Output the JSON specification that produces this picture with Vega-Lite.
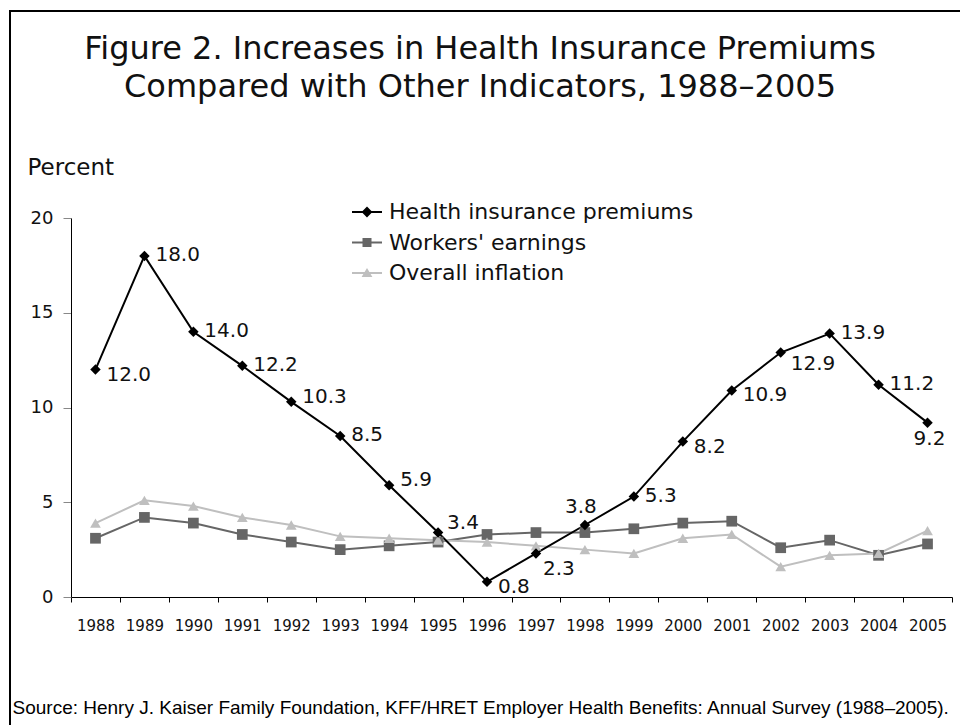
{
  "$schema": "https://vega.github.io/schema/vega-lite/v6.json",
  "width": 954,
  "height": 718,
  "autosize": {"type": "none"},
  "padding": {"left": 10, "top": 11, "right": -4, "bottom": -4},
  "background": "#ffffff",
  "title": {
    "text": ["Figure 2. Increases in Health Insurance Premiums", "Compared with Other Indicators, 1988–2005"],
    "font": "DejaVu Sans",
    "fontSize": 32,
    "fontWeight": "normal",
    "color": "#111111",
    "lineHeight": 38,
    "anchor": "middle",
    "baseline": "bottom",
    "offset": -125,
    "dx": -7
  },
  "data": {
    "values": [
      {"year": "1988", "series": "Workers' earnings", "value": 3.1},
      {"year": "1989", "series": "Workers' earnings", "value": 4.2},
      {"year": "1990", "series": "Workers' earnings", "value": 3.9},
      {"year": "1991", "series": "Workers' earnings", "value": 3.3},
      {"year": "1992", "series": "Workers' earnings", "value": 2.9},
      {"year": "1993", "series": "Workers' earnings", "value": 2.5},
      {"year": "1994", "series": "Workers' earnings", "value": 2.7},
      {"year": "1995", "series": "Workers' earnings", "value": 2.9},
      {"year": "1996", "series": "Workers' earnings", "value": 3.3},
      {"year": "1997", "series": "Workers' earnings", "value": 3.4},
      {"year": "1998", "series": "Workers' earnings", "value": 3.4},
      {"year": "1999", "series": "Workers' earnings", "value": 3.6},
      {"year": "2000", "series": "Workers' earnings", "value": 3.9},
      {"year": "2001", "series": "Workers' earnings", "value": 4.0},
      {"year": "2002", "series": "Workers' earnings", "value": 2.6},
      {"year": "2003", "series": "Workers' earnings", "value": 3.0},
      {"year": "2004", "series": "Workers' earnings", "value": 2.2},
      {"year": "2005", "series": "Workers' earnings", "value": 2.8},
      {"year": "1988", "series": "Overall inflation", "value": 3.9},
      {"year": "1989", "series": "Overall inflation", "value": 5.1},
      {"year": "1990", "series": "Overall inflation", "value": 4.8},
      {"year": "1991", "series": "Overall inflation", "value": 4.2},
      {"year": "1992", "series": "Overall inflation", "value": 3.8},
      {"year": "1993", "series": "Overall inflation", "value": 3.2},
      {"year": "1994", "series": "Overall inflation", "value": 3.1},
      {"year": "1995", "series": "Overall inflation", "value": 3.0},
      {"year": "1996", "series": "Overall inflation", "value": 2.9},
      {"year": "1997", "series": "Overall inflation", "value": 2.7},
      {"year": "1998", "series": "Overall inflation", "value": 2.5},
      {"year": "1999", "series": "Overall inflation", "value": 2.3},
      {"year": "2000", "series": "Overall inflation", "value": 3.1},
      {"year": "2001", "series": "Overall inflation", "value": 3.3},
      {"year": "2002", "series": "Overall inflation", "value": 1.6},
      {"year": "2003", "series": "Overall inflation", "value": 2.2},
      {"year": "2004", "series": "Overall inflation", "value": 2.3},
      {"year": "2005", "series": "Overall inflation", "value": 3.5},
      {"year": "1988", "series": "Health insurance premiums", "value": 12.0},
      {"year": "1989", "series": "Health insurance premiums", "value": 18.0},
      {"year": "1990", "series": "Health insurance premiums", "value": 14.0},
      {"year": "1991", "series": "Health insurance premiums", "value": 12.2},
      {"year": "1992", "series": "Health insurance premiums", "value": 10.3},
      {"year": "1993", "series": "Health insurance premiums", "value": 8.5},
      {"year": "1994", "series": "Health insurance premiums", "value": 5.9},
      {"year": "1995", "series": "Health insurance premiums", "value": 3.4},
      {"year": "1996", "series": "Health insurance premiums", "value": 0.8},
      {"year": "1997", "series": "Health insurance premiums", "value": 2.3},
      {"year": "1998", "series": "Health insurance premiums", "value": 3.8},
      {"year": "1999", "series": "Health insurance premiums", "value": 5.3},
      {"year": "2000", "series": "Health insurance premiums", "value": 8.2},
      {"year": "2001", "series": "Health insurance premiums", "value": 10.9},
      {"year": "2002", "series": "Health insurance premiums", "value": 12.9},
      {"year": "2003", "series": "Health insurance premiums", "value": 13.9},
      {"year": "2004", "series": "Health insurance premiums", "value": 11.2},
      {"year": "2005", "series": "Health insurance premiums", "value": 9.2}
    ]
  },
  "encoding": {
    "x": {
      "field": "year",
      "type": "ordinal",
      "scale": {"range": [61, 942], "paddingInner": 0, "paddingOuter": 0},
      "axis": {
        "title": "Source: Henry J. Kaiser Family Foundation, KFF/HRET Employer Health Benefits: Annual Survey (1988–2005).",
        "titleFont": "Liberation Sans",
        "titleFontSize": 19,
        "titleFontWeight": "normal",
        "titleColor": "#000000",
        "titleX": 2,
        "titleY": 110,
        "titleAlign": "left",
        "titleAnchor": "start",
        "titleBaseline": "middle",
        "labelAngle": 0,
        "labelFont": "DejaVu Sans",
        "labelFontSize": 15,
        "labelColor": "#111111",
        "labelPadding": 16,
        "tickBand": "extent",
        "tickSize": 5,
        "tickColor": "#000000",
        "domainColor": "#000000",
        "offset": -132,
        "grid": false
      }
    },
    "y": {
      "field": "value",
      "type": "quantitative",
      "scale": {"domain": [0, 20], "range": [586, 207], "nice": false, "zero": false},
      "axis": {
        "title": "Percent",
        "titleAngle": 0,
        "titleAlign": "left",
        "titleBaseline": "middle",
        "titleX": -44,
        "titleY": 156,
        "titleFont": "DejaVu Sans",
        "titleFontSize": 23,
        "titleFontWeight": "normal",
        "titleColor": "#111111",
        "values": [0, 5, 10, 15, 20],
        "labelFont": "DejaVu Sans",
        "labelFontSize": 18,
        "labelColor": "#111111",
        "labelPadding": 10,
        "tickSize": 8,
        "tickColor": "#888888",
        "domainColor": "#000000",
        "offset": -61,
        "grid": false
      }
    }
  },
  "layer": [
    {
      "transform": [{"filter": "datum.series === \"Workers' earnings\""}],
      "mark": {"type": "line", "strokeWidth": 2, "color": "#666666"},
      "encoding": {}
    },
    {
      "transform": [{"filter": "datum.series === 'Overall inflation'"}],
      "mark": {"type": "line", "strokeWidth": 2, "color": "#bfbfbf"},
      "encoding": {}
    },
    {
      "transform": [{"filter": "datum.series === 'Health insurance premiums'"}],
      "mark": {"type": "line", "strokeWidth": 2, "color": "#000000"},
      "encoding": {}
    },
    {
      "mark": {"type": "point", "filled": true, "opacity": 0, "size": 100},
      "encoding": {
        "color": {
          "field": "series",
          "type": "nominal",
          "scale": {
            "domain": ["Health insurance premiums", "Workers' earnings", "Overall inflation"],
            "range": ["#000000", "#666666", "#bfbfbf"]
          },
          "legend": {
            "title": null,
            "orient": "none",
            "legendX": 342,
            "legendY": 186,
            "padding": 0,
            "symbolSize": 900,
            "symbolStrokeWidth": 0,
            "symbolOpacity": 1,
            "labelFont": "DejaVu Sans",
            "labelFontSize": 22,
            "labelColor": "#111111",
            "labelOffset": 7,
            "labelLimit": 500,
            "rowPadding": 4.5
          }
        },
        "shape": {
          "field": "series",
          "type": "nominal",
          "scale": {
            "domain": ["Health insurance premiums", "Workers' earnings", "Overall inflation"],
            "range": [
              "M-1,-0.07H1V0.07H-1ZM0,-0.36L0.36,0L0,0.36L-0.36,0Z",
              "M-1,-0.07H1V0.07H-1ZM-0.3,-0.3H0.3V0.3H-0.3Z",
              "M-1,-0.07H1V0.07H-1ZM0,-0.34L0.36,0.26H-0.36Z"
            ]
          },
          "legend": {
            "title": null,
            "orient": "none",
            "legendX": 342,
            "legendY": 186,
            "padding": 0,
            "symbolSize": 900,
            "symbolStrokeWidth": 0,
            "symbolOpacity": 1,
            "labelFont": "DejaVu Sans",
            "labelFontSize": 22,
            "labelColor": "#111111",
            "labelOffset": 7,
            "labelLimit": 500,
            "rowPadding": 4.5
          }
        }
      }
    },
    {
      "transform": [{"filter": "datum.series === \"Workers' earnings\""}],
      "mark": {"type": "point", "shape": "square", "filled": true, "opacity": 1, "size": 115, "color": "#666666"},
      "encoding": {}
    },
    {
      "transform": [{"filter": "datum.series === 'Overall inflation'"}],
      "mark": {"type": "point", "shape": "triangle-up", "filled": true, "opacity": 1, "size": 115, "color": "#bfbfbf"},
      "encoding": {}
    },
    {
      "transform": [{"filter": "datum.series === 'Health insurance premiums'"}],
      "mark": {"type": "point", "shape": "diamond", "filled": true, "opacity": 1, "size": 110, "color": "#000000"},
      "encoding": {}
    },
    {
      "transform": [
        {"filter": "datum.series === 'Health insurance premiums'"},
        {"filter": {"field": "year", "oneOf": ["1989", "1990", "1991", "1993", "1999", "2003", "2004"]}}
      ],
      "mark": {"type": "text", "align": "left", "baseline": "middle", "dx": 11, "dy": -1, "font": "DejaVu Sans", "fontSize": 20, "color": "#111111"},
      "encoding": {"text": {"field": "value", "type": "quantitative", "format": ".1f"}}
    },
    {
      "transform": [
        {"filter": "datum.series === 'Health insurance premiums'"},
        {"filter": {"field": "year", "oneOf": ["1992", "1994"]}}
      ],
      "mark": {"type": "text", "align": "left", "baseline": "middle", "dx": 11, "dy": -5, "font": "DejaVu Sans", "fontSize": 20, "color": "#111111"},
      "encoding": {"text": {"field": "value", "type": "quantitative", "format": ".1f"}}
    },
    {
      "transform": [
        {"filter": "datum.series === 'Health insurance premiums'"},
        {"filter": {"field": "year", "oneOf": ["1995"]}}
      ],
      "mark": {"type": "text", "align": "left", "baseline": "middle", "dx": 9, "dy": -10, "font": "DejaVu Sans", "fontSize": 20, "color": "#111111"},
      "encoding": {"text": {"field": "value", "type": "quantitative", "format": ".1f"}}
    },
    {
      "transform": [
        {"filter": "datum.series === 'Health insurance premiums'"},
        {"filter": {"field": "year", "oneOf": ["1988", "1996", "2000", "2001"]}}
      ],
      "mark": {"type": "text", "align": "left", "baseline": "middle", "dx": 11, "dy": 5, "font": "DejaVu Sans", "fontSize": 20, "color": "#111111"},
      "encoding": {"text": {"field": "value", "type": "quantitative", "format": ".1f"}}
    },
    {
      "transform": [
        {"filter": "datum.series === 'Health insurance premiums'"},
        {"filter": {"field": "year", "oneOf": ["2002"]}}
      ],
      "mark": {"type": "text", "align": "left", "baseline": "middle", "dx": 10, "dy": 11, "font": "DejaVu Sans", "fontSize": 20, "color": "#111111"},
      "encoding": {"text": {"field": "value", "type": "quantitative", "format": ".1f"}}
    },
    {
      "transform": [
        {"filter": "datum.series === 'Health insurance premiums'"},
        {"filter": {"field": "year", "oneOf": ["1997"]}}
      ],
      "mark": {"type": "text", "align": "left", "baseline": "middle", "dx": 7, "dy": 16, "font": "DejaVu Sans", "fontSize": 20, "color": "#111111"},
      "encoding": {"text": {"field": "value", "type": "quantitative", "format": ".1f"}}
    },
    {
      "transform": [
        {"filter": "datum.series === 'Health insurance premiums'"},
        {"filter": {"field": "year", "oneOf": ["1998"]}}
      ],
      "mark": {"type": "text", "align": "center", "baseline": "middle", "dx": -4, "dy": -18, "font": "DejaVu Sans", "fontSize": 20, "color": "#111111"},
      "encoding": {"text": {"field": "value", "type": "quantitative", "format": ".1f"}}
    },
    {
      "transform": [
        {"filter": "datum.series === 'Health insurance premiums'"},
        {"filter": {"field": "year", "oneOf": ["2005"]}}
      ],
      "mark": {"type": "text", "align": "center", "baseline": "middle", "dx": 2, "dy": 16, "font": "DejaVu Sans", "fontSize": 20, "color": "#111111"},
      "encoding": {"text": {"field": "value", "type": "quantitative", "format": ".1f"}}
    }
  ],
  "config": {
    "view": {"stroke": "#000000", "strokeWidth": 2},
    "axis": {"grid": false}
  }
}
